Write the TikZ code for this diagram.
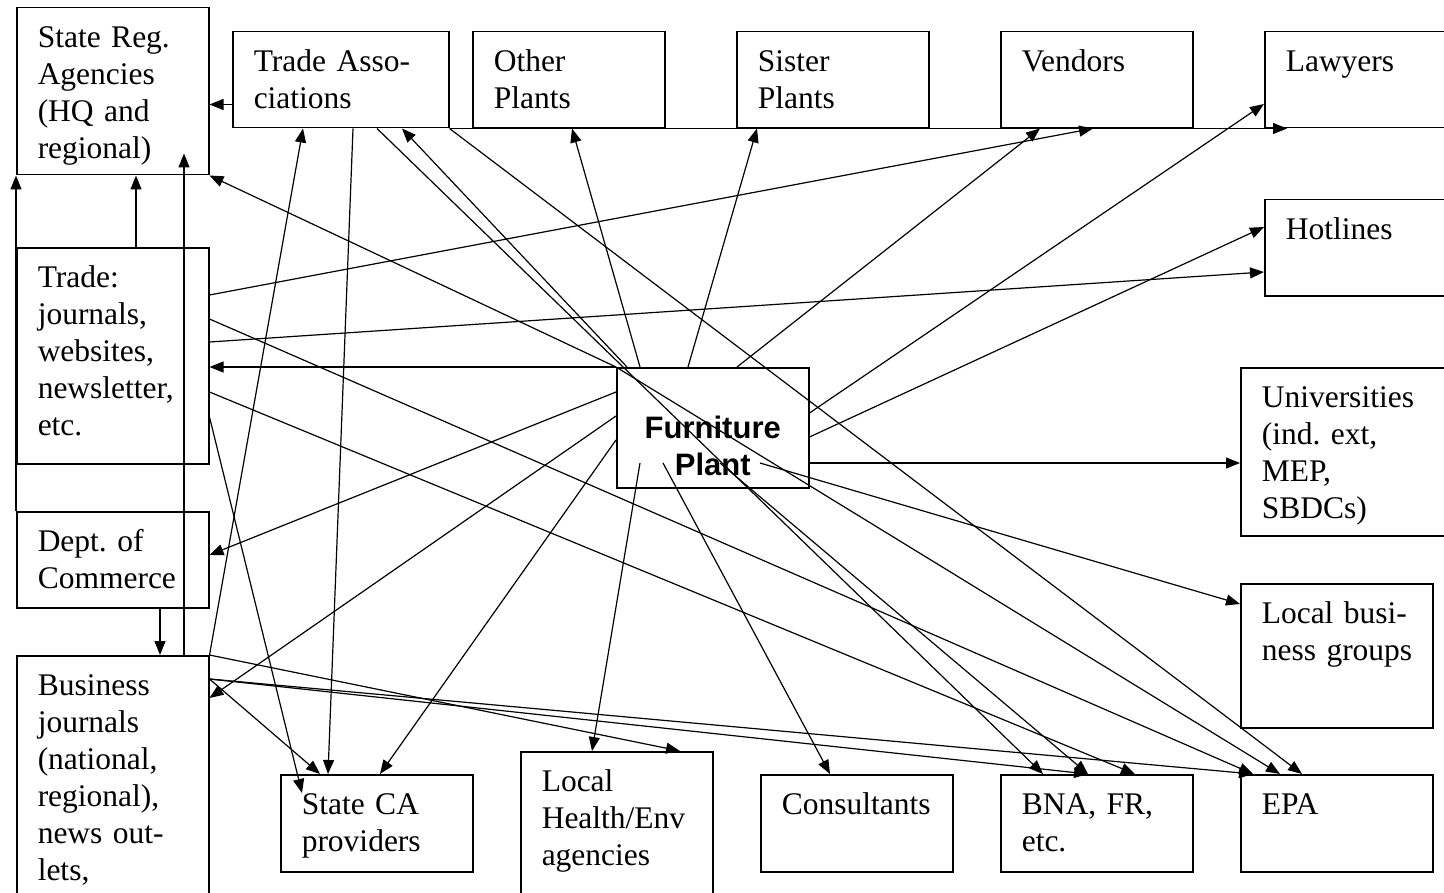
\documentclass[tikz,border=0pt]{standalone}
\usepackage{fontspec}
\setmainfont{Liberation Serif}[WordSpace={1,0,0}]
\newfontfamily\plantfont{Liberation Sans}
\usetikzlibrary{arrows.meta}
\usetikzlibrary{calc}
\frenchspacing

\begin{document}
\begin{tikzpicture}[x=0.5pt, y=-0.5pt,
	box/.style={draw, line width=0.75pt, anchor=north west, align=left, inner xsep=10.5pt, inner ysep=0pt, text height=20pt, font=\fontsize{15.75}{18.5}\selectfont},
	hub/.style={draw, line width=0.75pt, anchor=north west, align=center, inner sep=0pt, text width=96pt, text height=35.5pt, text depth=24.5pt, font=\plantfont\bfseries\fontsize{15.5}{18.5}\selectfont},
	link/.style={-{Triangle[length=7pt, width=5.5pt]}, line width=0.6pt}]
			\useasboundingbox (0,0) rectangle (1444,893);
			\clip (0,0) rectangle (1444,893);
			\node[box, text width=75pt, text depth=63.5pt] (streg) at (16,7) {State Reg.\\Agencies\\(HQ and\\regional)};
			\node[box, text width=87pt, text depth=28pt] (tradeassoc) at (232,31) {Trade Asso-\\ciations};
			\node[box, text width=75pt, text depth=28pt] (otherpl) at (472,31) {Other\\Plants};
			\node[box, text width=75pt, text depth=28pt] (sisterpl) at (736,31) {Sister\\Plants};
			\node[box, text width=75pt, text depth=28pt] (vendors) at (1000,31) {Vendors};
			\node[box, text width=79pt, text depth=28pt] (lawyers) at (1264,31) {Lawyers};
			\node[box, text width=79pt, text depth=28pt] (hotlines) at (1264,199) {Hotlines};
			\node[box, text width=89pt, text depth=64pt] (univ) at (1240,367) {Universities\\(ind. ext,\\MEP,\\SBDCs)};
			\node[box, text width=75pt, text depth=52pt] (localbiz) at (1240,583) {Local busi-\\ness~groups};
			\node[box, text width=75pt, text depth=28.5pt] (epa) at (1240,774) {EPA};
			\node[box, text width=75pt, text depth=28.5pt] (bna) at (1000,774) {BNA, FR,\\etc.};
			\node[box, text width=75pt, text depth=28.5pt] (consult) at (760,774) {Consultants};
			\node[box, text width=75pt, text depth=65pt] (localhealth) at (520,751) {Local\\Health/Env\\agencies};
			\node[box, text width=75pt, text depth=28.5pt] (stateca) at (280,774) {State CA\\providers};
			\node[box, text width=75pt, text depth=112.5pt] (bizjourn) at (16,655) {Business\\journals\\(national,\\regional),\\news out-\\lets,};
			\node[box, text width=75pt, text depth=28pt] (commerce) at (16,511) {Dept. of\\Commerce};
			\node[box, text width=75pt, text depth=88pt] (tradejourn) at (16,247) {Trade:\\journals,\\websites,\\newsletter,\\etc.};
			\node[hub] (plant) at (616,367) {Furniture\\Plant};
			\draw[link] ($(tradeassoc.south west)+(0,-24)$) to ($(streg.south east)+(0,-71)$);
			\draw[link] (commerce.north west) to (streg.south west);
			\draw[link] ($(tradejourn.north west)+(120,0)$) to ($(streg.south west)+(120,0)$);
			\draw[link] ($(bizjourn.north west)+(168,0)$) to ($(streg.south west)+(168,-22)$);
			\draw[link] ($(commerce.south west)+(144,0)$) to ($(bizjourn.north west)+(144,0)$);
			\draw[link] (plant.north west) to (streg.south east);
			\draw[link] (plant.north west) to ($(tradejourn.north east)+(0,120)$);
			\draw[link] ($(plant.north west)+(0,25)$) to ($(commerce.north east)+(0,44)$);
			\draw[link] ($(plant.north west)+(0,49)$) to ($(bizjourn.north east)+(0,43)$);
			\draw[link] ($(plant.north west)+(0,73)$) to ($(stateca.north west)+(100,0)$);
			\draw[link] ($(plant.north west)+(24,96)$) to ($(localhealth.north west)+(72,0)$);
			\draw[link] ($(plant.north west)+(47,96)$) to ($(consult.north west)+(70,0)$);
			\draw[link] ($(plant.north west)+(104,96)$) to ($(bna.north west)+(88,0)$);
			\draw[link] (plant.north west) to ($(epa.north west)+(40,0)$);
			\draw[link] ($(plant.north west)+(144,96)$) to ($(localbiz.north west)+(0,21)$);
			\draw[link] ($(plant.north east)+(0,96)$) to ($(univ.north west)+(0,96)$);
			\draw[link] ($(plant.north east)+(0,70)$) to ($(hotlines.north west)+(0,28)$);
			\draw[link] ($(plant.north east)+(0,46)$) to ($(lawyers.north west)+(0,73)$);
			\draw[link] ($(plant.north west)+(121,0)$) to ($(vendors.south west)+(40,0)$);
			\draw[link] ($(plant.north west)+(72,0)$) to ($(sisterpl.south west)+(21,0)$);
			\draw[link] ($(plant.north west)+(24,0)$) to ($(otherpl.south west)+(100,0)$);
			\draw[link] ($(plant.north west)+(11,0)$) to ($(tradeassoc.south west)+(170,0)$);
			\draw[link] ($(tradeassoc.south west)+(145,0)$) to ($(bna.north west)+(43,0)$);
			\draw[link] (tradeassoc.south east) to ($(epa.north west)+(62,0)$);
			\draw[link] (tradeassoc.south east) to ($(lawyers.south west)+(23,0)$);
			\draw[link] ($(tradeassoc.south west)+(121,0)$) to ($(stateca.north west)+(48,0)$);
			\draw[link] ($(tradejourn.north east)+(0,48)$) to ($(vendors.south west)+(93,0)$);
			\draw[link] ($(tradejourn.north east)+(0,95)$) to ($(hotlines.north west)+(0,73)$);
			\draw[link] ($(tradejourn.north east)+(0,72)$) to ($(epa.north west)+(13,0)$);
			\draw[link] ($(tradejourn.north east)+(0,145)$) to ($(bna.north west)+(135,0)$);
			\draw[link] ($(tradejourn.north east)+(0,170)$) to ($(stateca.north west)+(22,19)$);
			\draw[link] (bizjourn.north east) to ($(tradeassoc.south west)+(71,0)$);
			\draw[link] (bizjourn.north east) to ($(localhealth.north west)+(160,0)$);
			\draw[link] ($(bizjourn.north east)+(0,24)$) to ($(stateca.north west)+(40,0)$);
			\draw[link] ($(bizjourn.north east)+(0,24)$) to ($(epa.north west)+(13,0)$);
			\draw[link] ($(bizjourn.north east)+(0,24)$) to ($(bna.north west)+(88,0)$);
		\end{tikzpicture}
\end{document}
